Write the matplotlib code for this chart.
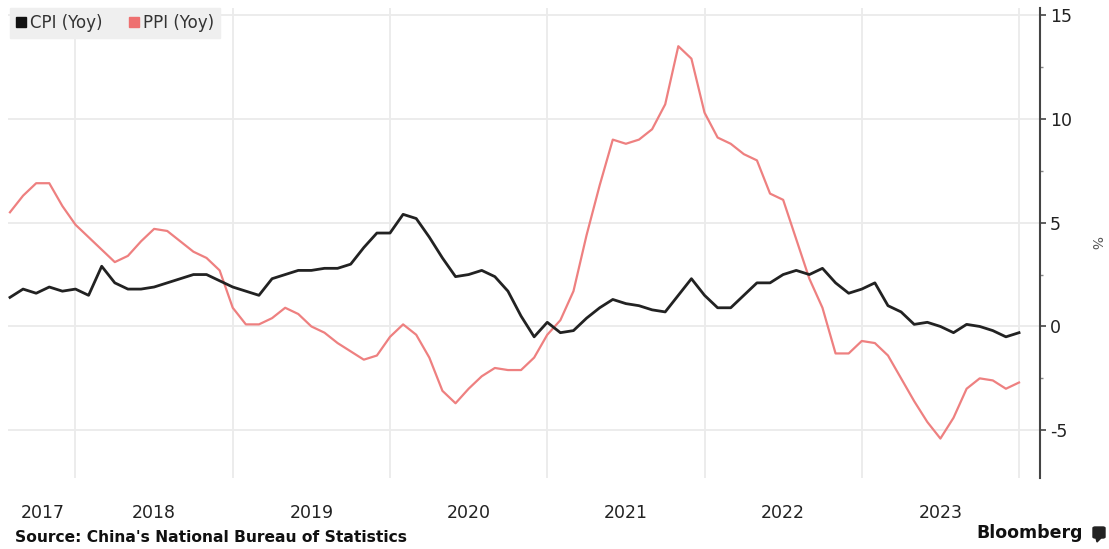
import matplotlib.pyplot as plt
from matplotlib.patches import Patch, FancyBboxPatch, Polygon
import numpy as np

# monthly data, Jul 2017 .. Dec 2023
cpi = [1.4, 1.8, 1.6, 1.9, 1.7, 1.8,
       1.5, 2.9, 2.1, 1.8, 1.8, 1.9, 2.1, 2.3, 2.5, 2.5, 2.2, 1.9,
       1.7, 1.5, 2.3, 2.5, 2.7, 2.7, 2.8, 2.8, 3.0, 3.8, 4.5, 4.5,
       5.4, 5.2, 4.3, 3.3, 2.4, 2.5, 2.7, 2.4, 1.7, 0.5, -0.5, 0.2,
       -0.3, -0.2, 0.4, 0.9, 1.3, 1.1, 1.0, 0.8, 0.7, 1.5, 2.3, 1.5,
       0.9, 0.9, 1.5, 2.1, 2.1, 2.5, 2.7, 2.5, 2.8, 2.1, 1.6, 1.8,
       2.1, 1.0, 0.7, 0.1, 0.2, 0.0, -0.3, 0.1, 0.0, -0.2, -0.5, -0.3]
ppi = [5.5, 6.3, 6.9, 6.9, 5.8, 4.9,
       4.3, 3.7, 3.1, 3.4, 4.1, 4.7, 4.6, 4.1, 3.6, 3.3, 2.7, 0.9,
       0.1, 0.1, 0.4, 0.9, 0.6, 0.0, -0.3, -0.8, -1.2, -1.6, -1.4, -0.5,
       0.1, -0.4, -1.5, -3.1, -3.7, -3.0, -2.4, -2.0, -2.1, -2.1, -1.5, -0.4,
       0.3, 1.7, 4.4, 6.8, 9.0, 8.8, 9.0, 9.5, 10.7, 13.5, 12.9, 10.3,
       9.1, 8.8, 8.3, 8.0, 6.4, 6.1, 4.2, 2.3, 0.9, -1.3, -1.3, -0.7,
       -0.8, -1.4, -2.5, -3.6, -4.6, -5.4, -4.4, -3.0, -2.5, -2.6, -3.0, -2.7]
years = ["2017", "2018", "2019", "2020", "2021", "2022", "2023"]
y_ticks = [-5, 0, 5, 10, 15]

x = np.arange(len(cpi))

W, H = 1109, 549
fig = plt.figure(figsize=(W / 100, H / 100), dpi=100)
ax = fig.add_axes([8 / W, 1 - 478 / H, (1040 - 8) / W, (478 - 8) / H])

grid_c = "#ebebeb"
# vertical gridlines at year ends (December points)
for gx in range(5, len(x), 12):
    ax.axvline(gx, color=grid_c, lw=1.3, zorder=0)
for gy in y_ticks:
    ax.axhline(gy, color=grid_c, lw=1.3, zorder=0)

ax.plot(x, ppi, color="#ee8080", lw=1.6, zorder=2)
ax.plot(x, cpi, color="#222222", lw=2.0, zorder=3)

ax.yaxis.tick_right()
ax.yaxis.set_label_position("right")
ax.set_yticks(y_ticks)
ax.set_yticklabels([str(v) for v in y_ticks], fontsize=12.5, color="#222222")
ax.set_yticks(np.arange(-5, 15, 2.5), minor=True)
ax.tick_params(axis="y", which="major", length=4, width=1.2, color="#444444", pad=3)
ax.tick_params(axis="y", which="minor", length=2.5, width=1, color="#888888")
ax.set_ylabel("%", rotation=270, fontsize=10, color="#555555", labelpad=22)

# year labels at mid-year, first one pinned near left edge
year_pos = [2.5] + [11 + 12 * i for i in range(len(years) - 1)]
ax.set_xticks(year_pos)
ax.set_xticklabels(years, fontsize=12.5, color="#222222")
ax.tick_params(axis="x", length=0, pad=19)

ax.set_xlim(-0.15, 78.6)
ax.set_ylim(-7.3, 15.34)

for s in ["top", "left", "bottom"]:
    ax.spines[s].set_visible(False)
ax.spines["right"].set_color("#444444")
ax.spines["right"].set_linewidth(1.5)

handles = [Patch(color="#111111"), Patch(color="#ee7070")]
leg = ax.legend(handles, ["CPI (Yoy)", "PPI (Yoy)"], loc="upper left",
                bbox_to_anchor=(2 / (1040 - 8), 1.0), ncol=2, frameon=True,
                fontsize=12, handlelength=0.6, handleheight=0.6,
                handletextpad=0.25, columnspacing=1.6, borderpad=0.35,
                fancybox=False, borderaxespad=0.0)
leg.get_frame().set_facecolor("#efefef")
leg.get_frame().set_edgecolor("#efefef")
leg.get_frame().set_alpha(1)
for t in leg.get_texts():
    t.set_color("#333333")

fig.text(15 / W, 1 - 538 / H, "Source: China's National Bureau of Statistics",
         fontsize=11.2, fontweight="bold", color="#111111", va="center", ha="left")
fig.text(1083 / W, 1 - 533 / H, "Bloomberg", fontsize=12.5, fontweight="bold",
         color="#111111", va="center", ha="right")
# small Bloomberg badge
badge = FancyBboxPatch((1093 / W, 1 - 538 / H), 12 / W, 11 / H,
                       boxstyle="round,pad=0,rounding_size=0.002",
                       transform=fig.transFigure, color="#222222")
fig.patches.append(badge)
tail = Polygon([(1096 / W, 1 - 538 / H), (1101 / W, 1 - 538 / H),
                (1097 / W, 1 - 542 / H)], closed=True,
               transform=fig.transFigure, color="#222222")
fig.patches.append(tail)

fig.savefig("out.png", dpi=100)
